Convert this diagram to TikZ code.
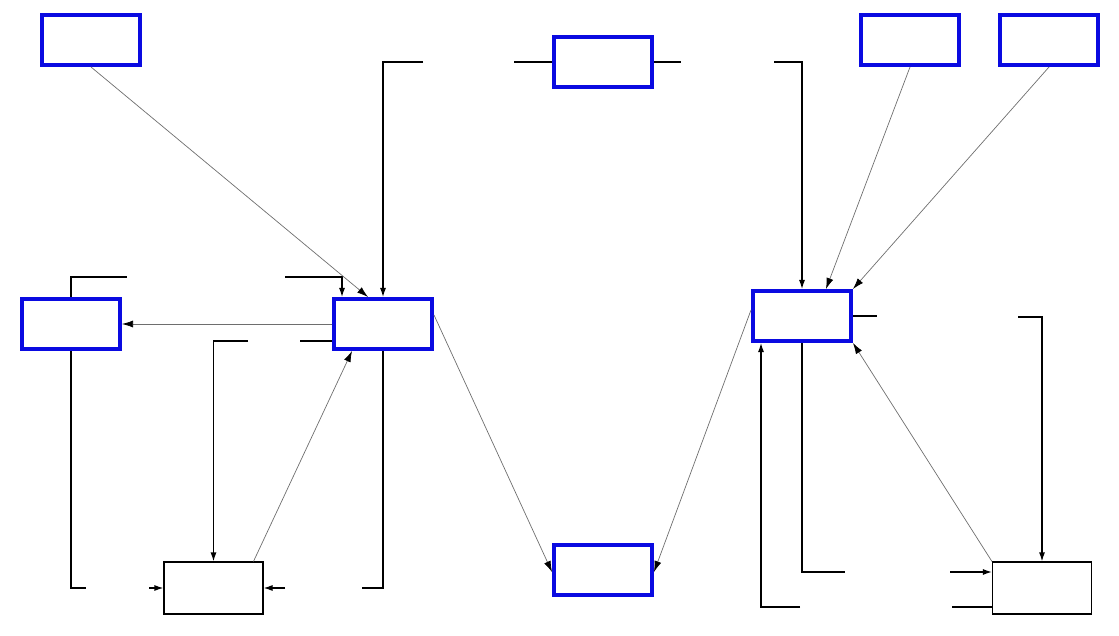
\documentclass[tikz,border=0pt]{standalone}
\usetikzlibrary{arrows.meta}
\definecolor{bbl}{RGB}{10,10,225}
\definecolor{gln}{RGB}{110,110,110}
\begin{document}
\begin{tikzpicture}[x=1pt,y=-1pt,
  bluebox/.style={draw=bbl,line width=4pt,minimum width=98pt,minimum height=50pt,inner sep=0pt,fill=white},
  blackbox/.style={draw=black,line width=1.2pt,minimum width=99pt,minimum height=52pt,inner sep=0pt},
  bline/.style={draw=black,line width=1.2pt},
  barrow/.style={bline,-{Latex[length=9pt,width=6pt]}},
  gline/.style={draw=gln,line width=0.7pt},
  garrow/.style={gline,-{Latex[length=11pt,width=7pt,color=black]}}]
\useasboundingbox (0,0) rectangle (1119,636);
% boxes
\node[bluebox] (b1) at (91,40) {};
\node[bluebox] (b2) at (603,62) {};
\node[bluebox] (b3) at (910,40) {};
\node[bluebox] (b4) at (1049,40) {};
\node[bluebox] (b5) at (71,324) {};
\node[bluebox] (b6) at (383,324) {};
\node[bluebox] (b7) at (603,570) {};
\node[bluebox] (b8) at (802,316) {};
\node[blackbox] (l1) at (213.5,588) {};
\node[blackbox] (l2) at (1042,588) {};
% free ends
\coordinate (c1) at (423,62);
\coordinate (c2) at (514,62);
\coordinate (c3) at (681,62);
\coordinate (c4) at (774,62);
\coordinate (c5) at (127,277);
\coordinate (c6) at (285,277);
\coordinate (c7) at (300,341);
\coordinate (c8) at (248,341);
\coordinate (c9) at (86,588);
\coordinate (c10) at (149,588);
\coordinate (c11) at (285,588);
\coordinate (c12) at (362,588);
\coordinate (c13) at (877,316);
\coordinate (c14) at (1018,317);
\coordinate (c15) at (845,572);
\coordinate (c16) at (950,572);
\coordinate (c17) at (800,607);
\coordinate (c18) at (952,607);
% black connectors
\draw[barrow] (c1) -| (b6.north);
\draw[bline] (c2) -- (b2.west);
\draw[bline] (b2.east) -- (c3);
\draw[barrow] (c4) -| (b8.north);
\draw[bline] (b5.north) |- (c5);
\draw[barrow] (c6) -| ([xshift=-41pt]b6.north);
\draw[bline] (c7) -- (b6.west |- c7);
\draw[barrow] (c8) -| (l1.north);
\draw[bline] (b5.south) |- (c9);
\draw[barrow] (c10) -- (l1.west);
\draw[barrow] (c11) -- (l1.east);
\draw[bline] (b6.south) |- (c12);
\draw[bline] (b8.east) -- (c13);
\draw[barrow] (c14) -| (l2.north);
\draw[bline] (b8.south) |- (c15);
\draw[barrow] (c16) -- (l2.west |- c16);
\draw[barrow] (c17) -| ([xshift=-41pt]b8.south);
\draw[bline] (c18) -- (l2.west |- c18);
% gray connectors
\draw[garrow] (b1.south) -- ([xshift=-15pt]b6.north);
\draw[garrow] (b3.south) -- ([xshift=24pt]b8.north);
\draw[garrow] (b4.south) -- (b8.north east);
\draw[garrow] (b6.west) -- (b5.east);
\draw[garrow] ([xshift=40pt]l1.north) -- ([xshift=-31pt]b6.south);
\draw[garrow] ([yshift=9pt]b6.east) -- ([yshift=-2pt]b7.west);
\draw[garrow] ([yshift=6pt]b8.west) -- ([yshift=-2pt]b7.east);
\draw[garrow] (l2.north west) -- (b8.south east);
\end{tikzpicture}
\end{document}
